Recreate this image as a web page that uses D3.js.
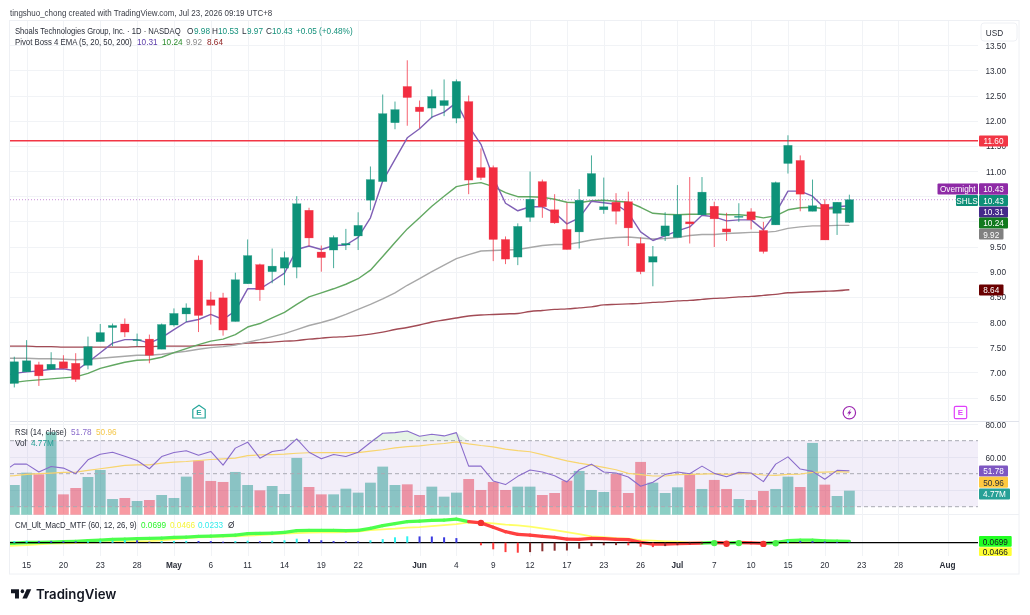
<!DOCTYPE html>
<html lang="en">
<head>
<meta charset="UTF-8">
<title>SHLS 1D chart</title>
<script src="https://d3js.org/d3.v7.min.js"></script>
<style>
    body { margin: 0; background: #fff; }
    svg { display: block; filter: blur(0.3px); }
    text { font-family: "Liberation Sans", sans-serif; font-size: 9.5px; fill: #2a2e39; }
</style>
</head>
<body>
<svg id="chart" width="1030" height="615"></svg>
<script>
// candles, one per trading day, from Apr 14
const open = [6.78,7.01,7.15,7.06,7.21,7.18,7.14,7.61,7.89,7.96,7.63,7.66,7.46,7.94,8.16,9.23,8.44,8.48,8.01,8.76,9.14,9.00,9.07,9.09,10.22,9.39,9.43,
    9.53,9.71,10.42,10.79,11.96,12.68,12.27,12.25,12.30,12.05,12.38,11.07,11.07,9.64,9.29,10.08,10.79,10.23,9.84,9.79,10.50,10.23,10.38,10.39,9.56,9.19,9.71,9.68,
    9.99,10.13,10.30,9.85,10.08,10.19,9.82,9.93,11.15,11.21,10.20,10.34,10.16,9.98];
const high = [7.31,7.64,7.21,7.40,7.34,7.38,7.71,7.96,7.97,8.07,7.77,7.75,7.97,8.27,8.37,9.32,8.60,8.58,8.98,9.64,9.16,9.46,9.40,10.50,10.27,9.52,9.72,
    9.85,10.18,11.09,12.52,12.38,13.20,12.40,12.62,12.82,12.82,12.50,11.45,11.11,9.70,9.96,10.99,10.83,10.54,10.37,10.64,11.31,10.87,10.56,10.59,9.68,9.51,10.18,10.72,
    10.88,10.88,10.39,10.17,10.36,10.26,9.99,10.79,11.71,11.31,10.83,10.44,10.38,10.53];
const low = [6.70,7.01,6.73,7.06,7.08,6.81,7.06,7.61,7.52,7.70,7.52,7.18,7.46,7.91,8.00,7.80,7.95,7.73,8.01,8.76,8.42,8.77,8.73,8.87,9.51,9.00,9.07,
    9.43,9.43,10.22,10.79,11.83,11.90,11.85,12.05,12.09,11.95,10.54,10.82,9.21,9.15,9.13,9.99,10.07,9.95,9.44,9.46,10.50,10.15,9.94,9.51,8.95,8.71,9.61,9.68,
    9.56,10.13,9.49,9.61,9.99,9.84,9.36,9.93,10.95,10.20,10.20,9.63,9.73,9.97];
const close = [7.21,7.23,6.93,7.16,7.08,6.86,7.51,7.79,7.93,7.80,7.65,7.34,7.95,8.17,8.28,8.13,8.33,7.84,8.84,9.32,8.64,9.11,9.28,10.35,9.67,9.28,9.68,
    9.56,9.92,10.83,12.14,12.22,12.46,12.18,12.48,12.40,12.78,10.82,10.87,9.64,9.25,9.90,10.44,10.29,9.97,9.44,10.42,10.95,10.29,10.20,9.87,9.00,9.30,9.91,10.13,
    9.95,10.58,10.05,9.79,10.10,10.03,9.40,10.77,11.51,10.54,10.31,9.63,10.38,10.43];

// Pivot Boss EMAs
const ema5 = [6.98,7.01,7.03,7.06,7.07,7.03,7.20,7.39,7.58,7.65,7.65,7.58,7.69,7.85,8.00,8.05,8.15,8.05,8.22,8.66,8.66,8.81,8.97,9.44,9.51,9.44,9.52,
    9.53,9.68,10.07,10.80,11.23,11.66,11.84,12.07,12.17,12.36,11.89,11.53,10.87,10.36,10.21,10.29,10.29,10.17,9.95,10.07,10.40,10.37,10.34,10.17,9.79,9.62,9.71,9.81,
    9.89,10.12,10.09,10.01,10.03,10.03,9.83,10.17,10.60,10.60,10.50,10.26,10.29,10.31];
const ema20 = [6.80,6.83,6.85,6.87,6.89,6.91,6.98,7.08,7.14,7.20,7.24,7.25,7.30,7.39,7.47,7.55,7.62,7.66,7.75,7.90,7.97,8.08,8.19,8.35,8.50,8.58,8.66,
    8.75,8.86,9.03,9.30,9.58,9.85,10.07,10.30,10.50,10.69,10.74,10.77,10.69,10.57,10.49,10.49,10.48,10.44,10.38,10.37,10.41,10.42,10.40,10.38,10.28,10.16,10.14,10.13,
    10.14,10.14,10.15,10.13,10.13,10.11,10.07,10.11,10.23,10.27,10.28,10.25,10.25,10.24];
const ema50 = [7.28,7.28,7.27,7.27,7.26,7.25,7.26,7.28,7.30,7.32,7.34,7.34,7.36,7.39,7.42,7.46,7.49,7.51,7.54,7.60,7.65,7.71,7.77,7.85,7.93,7.99,8.06,
    8.15,8.25,8.35,8.46,8.58,8.73,8.86,9.00,9.13,9.26,9.34,9.41,9.42,9.43,9.44,9.48,9.52,9.54,9.54,9.58,9.63,9.66,9.68,9.69,9.67,9.65,9.66,9.68,
    9.72,9.74,9.74,9.76,9.77,9.78,9.78,9.80,9.86,9.89,9.91,9.91,9.92,9.92];
const ema200 = [7.52,7.52,7.51,7.51,7.50,7.50,7.50,7.50,7.50,7.50,7.51,7.51,7.52,7.52,7.52,7.53,7.54,7.55,7.56,7.58,7.59,7.60,7.62,7.63,7.66,7.68,7.70,
    7.71,7.73,7.76,7.80,7.85,7.89,7.94,8.00,8.04,8.08,8.12,8.14,8.15,8.16,8.17,8.21,8.23,8.25,8.26,8.28,8.30,8.34,8.35,8.36,8.37,8.39,8.40,8.42,
    8.43,8.45,8.47,8.48,8.50,8.51,8.53,8.55,8.58,8.59,8.60,8.61,8.62,8.64];

// volume in millions
const volume = [5.90,8.35,8.02,16.4,4.04,5.30,7.49,8.88,3.12,3.32,2.72,2.92,3.91,3.32,7.56,10.74,6.70,6.50,8.49,5.90,4.84,5.70,4.11,11.27,5.50,4.04,4.04,
    5.17,4.38,6.36,9.55,5.90,6.03,3.91,5.57,3.58,4.38,7.09,4.91,6.50,4.91,5.57,5.57,3.91,4.31,6.76,8.69,4.91,4.51,8.15,4.31,10.48,6.36,4.31,5.44,
    8.09,5.11,6.90,5.11,3.12,2.92,4.71,5.11,7.56,5.50,14.25,5.97,3.71,4.77];

const rsi = [55.8,55.8,51.0,54.4,53.4,50.0,58.4,61.8,63.0,60.6,58.0,53.0,60.4,62.8,63.9,61.2,63.5,55.2,65.5,69.1,59.4,63.5,64.5,71.1,63.0,59.0,61.6,
    60.4,63.0,68.9,74.5,74.9,75.9,72.7,73.9,72.9,74.9,54.6,54.6,45.6,43.4,48.4,52.2,51.0,48.8,45.0,52.4,55.8,51.0,50.4,48.0,42.4,44.8,49.6,51.0,
    50.0,54.6,50.2,48.2,50.8,50.4,45.2,55.8,60.2,52.8,51.4,46.6,52.0,51.78];
const rsiMa = [48.8,49.6,50.0,50.4,50.8,51.0,52.0,53.0,54.0,55.0,55.4,55.4,56.4,57.0,57.4,58.0,58.6,59.0,59.4,61.0,61.4,61.6,61.9,62.4,62.7,62.8,62.8,
    62.8,62.8,63.7,64.5,65.7,66.4,66.9,67.7,68.3,69.3,68.1,67.1,66.3,64.9,64.0,63.3,61.6,59.6,57.8,56.4,55.2,53.8,52.4,50.2,49.4,48.6,48.6,49.4,
    49.6,49.8,50.0,49.6,50.0,50.0,49.2,49.0,49.6,49.8,50.8,51.0,51.2,50.96];

// CM_Ult_MacD_MTF
const macdLine = [-0.02,0.01,0.02,0.03,0.05,0.07,0.10,0.13,0.17,0.18,0.20,0.22,0.23,0.27,0.28,0.32,0.33,0.35,0.38,0.45,0.47,0.48,0.52,0.60,0.62,0.62,0.62,
    0.60,0.62,0.72,0.85,0.95,1.05,1.08,1.12,1.13,1.18,1.05,0.99,0.77,0.55,0.42,0.38,0.32,0.27,0.18,0.17,0.22,0.20,0.17,0.15,0.02,-0.07,-0.07,-0.05,
    -0.03,-0.02,0.01,-0.02,0.01,-0.01,-0.03,0.00,0.10,0.13,0.13,0.09,0.08,0.0699];
const macdSignal = [-0.15,-0.12,-0.08,-0.05,-0.03,-0.02,0.01,0.02,0.04,0.05,0.07,0.08,0.12,0.17,0.23,0.27,0.28,0.30,0.32,0.35,0.38,0.42,0.45,0.48,0.50,0.52,0.52,
    0.53,0.55,0.63,0.67,0.70,0.75,0.78,0.83,0.88,0.93,1.02,1.00,0.97,0.90,0.87,0.80,0.72,0.63,0.53,0.43,0.32,0.28,0.23,0.20,0.13,0.10,0.07,0.05,
    0.00,0.00,0.00,0.00,0.00,0.00,-0.01,-0.01,0.00,0.01,0.02,0.03,0.04,0.0466];
const macdHist = [0.08,0.09,0.08,0.075,0.07,0.065,0.067,0.10,0.105,0.13,0.12,0.05,0.08,0.085,0.09,0.085,0.08,0.05,0.08,0.10,0.07,0.10,0.12,0.20,0.17,0.12,0.08,
    0.07,0.065,0.12,0.18,0.27,0.32,0.315,0.31,0.27,0.23,0,-0.13,-0.33,-0.47,-0.50,-0.47,-0.43,-0.40,-0.39,-0.30,-0.17,-0.13,-0.12,-0.13,-0.20,-0.22,-0.17,-0.12,
    -0.08,-0.06,0,0,0,0,0,0,0.10,0.09,0.08,0.06,0.04,0.0233];
// days where the MACD crosses (dots)
const crossDays = [38,57,58,59,61,62];

// value of each study one day before the first visible candle
const before = { ema5: 6.92, ema20: 6.78, ema50: 7.28, ema200: 7.52, rsi: 50.5, rsiMa: 48.4, macd: -0.04, signal: -0.18 };

// axes
const tickDays = [1,4,7,10,13,16,19,22,25,28,33,36,39,42,45,48,51,54,57,60,63,66,69,72,76];
const tickLabels = ["15","20","23","28","May","6","11","14","19","22","Jun","4","9","12","17","23","26","Jul","7","10","15","20","23","28","Aug"];
const monthLabels = ["May","Jun","Jul","Aug"];
const priceTicks = [6.5,7,7.5,8,8.5,9,9.5,10,10.5,11,11.5,12,12.5,13,13.5];
const priceLabels = [6.5,7,7.5,8,8.5,9,9.5,11,11.5,12,12.5,13,13.5]; // 10 and 10.5 sit under the tags
const rsiTicks = [40,60,80];
const rsiLabels = [60,80];
const rsiLevels = [30,50,70];

const resistance = 11.60;
const lastPrice = 10.43;

const GREEN = "#0d9279", RED = "#f22d40";
const svg = d3.select("#chart");

// panes
const left = 10, right = 978, axisRight = 1019;
const x = d3.scaleLinear().domain([0, 76]).range([14.3, 947.6]);
const y = d3.scaleLinear().domain([6.5, 13.5]).range([397.5, 45.2]);
const yRsi = d3.scaleLinear().domain([30, 70]).range([506.7, 440.7]);
const yVol = d3.scaleLinear().domain([0, 17]).range([514.7, 429.1]);
const yMacd = d3.scaleLinear().domain([0, 1.2]).range([542.7, 518.7]);

svg.append("clipPath").attr("id", "pane").append("rect")
    .attr("x", left).attr("y", 21).attr("width", right - left).attr("height", 535);

// frame and pane separators
const frame = svg.append("g").attr("stroke", "#eef0f4").attr("fill", "none");
frame.append("rect").attr("x", 9.5).attr("y", 20.5).attr("width", axisRight - 9.5).attr("height", 553.5).attr("stroke-width", 1);
frame.append("line").attr("x1", left).attr("x2", axisRight).attr("y1", 421.5).attr("y2", 421.5).attr("stroke", "#e0e3eb");
frame.append("line").attr("x1", left).attr("x2", axisRight).attr("y1", 514.5).attr("y2", 514.5);

// grid
const grid = svg.append("g").attr("stroke", "#f1f3f6").attr("stroke-width", 1);
grid.selectAll(".gx").data(tickDays).enter().append("line")
    .attr("x1", d => Math.round(x(d)) + 0.5).attr("x2", d => Math.round(x(d)) + 0.5)
    .attr("y1", 21).attr("y2", 556);
grid.selectAll(".gy").data(priceTicks).enter().append("line")
    .attr("x1", left).attr("x2", right)
    .attr("y1", d => Math.round(y(d)) + 0.5).attr("y2", d => Math.round(y(d)) + 0.5);
grid.selectAll(".gr").data(rsiTicks).enter().append("line")
    .attr("x1", left).attr("x2", right)
    .attr("y1", d => Math.round(yRsi(d)) + 0.5).attr("y2", d => Math.round(yRsi(d)) + 0.5);

// price lines
svg.append("line").attr("x1", left).attr("x2", right).attr("y1", y(lastPrice)).attr("y2", y(lastPrice))
    .attr("stroke", "#c88fd8").attr("stroke-dasharray", "1 2");
svg.append("line").attr("x1", left).attr("x2", right).attr("y1", y(resistance)).attr("y2", y(resistance))
    .attr("stroke", "#f23645").attr("stroke-width", 1.4);

// EMAs sit under the candles
function drawLine(values, start, scale, color, width, curve) {
    svg.append("path").datum([start].concat(values))
        .attr("clip-path", "url(#pane)")
        .attr("fill", "none").attr("stroke", color).attr("stroke-width", width)
        .attr("stroke-linejoin", "round")
        .attr("d", d3.line().curve(curve || d3.curveLinear).x((d, i) => x(i - 1)).y(d => scale(d)));
}
drawLine(ema200, before.ema200, y, "#a24b55", 1.4, d3.curveMonotoneX);
drawLine(ema50, before.ema50, y, "#a8a8a8", 1.4);
drawLine(ema20, before.ema20, y, "#62a862", 1.4);
drawLine(ema5, before.ema5, y, "#7f5fb5", 1.4);

// candles
const candles = svg.append("g").selectAll("g").data(d3.range(close.length)).enter().append("g")
    .attr("fill", i => close[i] >= open[i] ? GREEN : RED)
    .attr("stroke", i => close[i] >= open[i] ? GREEN : RED);
candles.append("line")
    .attr("x1", i => x(i)).attr("x2", i => x(i))
    .attr("y1", i => y(high[i])).attr("y2", i => y(low[i]))
    .attr("stroke-opacity", 0.75);
candles.append("rect")
    .attr("x", i => x(i) - 4.2).attr("width", 8.4)
    .attr("y", i => y(Math.max(open[i], close[i])))
    .attr("height", i => Math.max(1, Math.abs(y(open[i]) - y(close[i]))))
    .attr("stroke-width", 0.5).attr("stroke-opacity", 0.5);

// volume under the RSI band
svg.append("g").attr("clip-path", "url(#pane)").selectAll("rect").data(volume).enter().append("rect")
    .attr("x", (d, i) => x(i) - 5.4).attr("width", 10.8)
    .attr("y", d => yVol(d)).attr("height", d => yVol(0) - yVol(d))
    .attr("fill", (d, i) => close[i] >= open[i] ? "rgba(8,153,129,.47)" : "rgba(242,54,69,.5)");

// RSI band
svg.append("rect").attr("x", left).attr("width", right - left)
    .attr("y", yRsi(70)).attr("height", yRsi(30) - yRsi(70))
    .attr("fill", "rgba(126,87,194,.1)");
svg.append("g").selectAll("line").data(rsiLevels).enter().append("line")
    .attr("x1", left).attr("x2", right).attr("y1", d => yRsi(d)).attr("y2", d => yRsi(d))
    .attr("stroke", "#a9abb3").attr("stroke-dasharray", "4 3");

// overbought shading
svg.append("path").datum(rsi)
    .attr("fill", "rgba(76,175,80,.14)")
    .attr("d", d3.area().x((d, i) => x(i)).y0(yRsi(70)).y1(d => yRsi(Math.max(d, 70))));
drawLine(rsiMa, before.rsiMa, yRsi, "#f8d56e", 1.2);
drawLine(rsi, before.rsi, yRsi, "#8a6ccb", 1.1);

// MACD
drawLine(macdSignal, before.signal, yMacd, "#ffff66", 1.8);
const macdAll = [before.macd].concat(macdLine);
const signalAll = [before.signal].concat(macdSignal);
const macdSegs = svg.append("g").attr("clip-path", "url(#pane)").attr("stroke-width", 3.3).attr("stroke-linecap", "round");
macdSegs.selectAll("line").data(d3.range(1, macdAll.length)).enter().append("line")
    .attr("x1", i => x(i - 2)).attr("x2", i => x(i - 1))
    .attr("y1", i => yMacd(macdAll[i - 1])).attr("y2", i => yMacd(macdAll[i]))
    .attr("stroke", i => macdAll[i] >= signalAll[i] ? "#4cff4c" : "#ff4040");
svg.append("line").attr("x1", left).attr("x2", right).attr("y1", yMacd(0)).attr("y2", yMacd(0))
    .attr("stroke", "#000").attr("stroke-width", 1.3);
svg.append("g").selectAll("rect").data(macdHist).enter().append("rect")
    .attr("x", (d, i) => x(i) - 1).attr("width", 2)
    .attr("y", d => Math.min(yMacd(d), yMacd(0)))
    .attr("height", d => Math.abs(yMacd(d) - yMacd(0)))
    .attr("fill", (d, i) => {
        const prev = i > 0 ? macdHist[i - 1] : 0;
        if (d >= 0) return d >= prev ? "#2ef2f2" : "#3a3ae0";
        return d < prev ? "#ff3b3b" : "#8a2f2f";
    });
svg.append("g").selectAll("circle").data(crossDays).enter().append("circle")
    .attr("cx", d => x(d)).attr("cy", d => yMacd(macdLine[d]) + (d > 50 ? 0.6 : 0)).attr("r", 3.2)
    .attr("fill", d => macdLine[d] >= macdSignal[d] ? "#48f048" : "#f23030");

// time axis
const timeAxis = svg.append("g").attr("transform", "translate(0,565)");
timeAxis.selectAll("text").data(tickDays).enter().append("text")
    .attr("x", d => x(d)).attr("dy", "0.35em").attr("text-anchor", "middle")
    .attr("font-weight", (d, i) => monthLabels.includes(tickLabels[i]) ? "bold" : null)
    .text((d, i) => tickLabels[i]);

// price axis
const fmt = d3.format(".2f");
const axisG = svg.append("g").attr("transform", "translate(1006,0)").call(
    d3.axisLeft(y).tickValues(priceLabels).tickSize(0).tickFormat(fmt));
axisG.select(".domain").remove();
const axisR = svg.append("g").attr("transform", "translate(1006,0)").call(
    d3.axisLeft(yRsi).tickValues(rsiLabels).tickSize(0).tickFormat(fmt));
axisR.select(".domain").remove();
svg.selectAll(".tick text").attr("x", 0);
axisG.attr("font-family", null).attr("font-size", null);
axisR.attr("font-family", null).attr("font-size", null);

// USD box
svg.append("rect").attr("x", 981).attr("y", 23).attr("width", 36).attr("height", 18).attr("rx", 3)
    .attr("fill", "#fff").attr("stroke", "#eef0f4");
svg.append("text").attr("x", 994.5).attr("y", 32.5).attr("dy", "0.35em").attr("text-anchor", "middle").text("USD");

// labels on the right side
function tag(x0, x1, cy, h, fill, label, color, cx) {
    svg.append("rect").attr("x", x0).attr("y", cy - h / 2).attr("width", x1 - x0).attr("height", h).attr("fill", fill).attr("rx", 1);
    svg.append("text").attr("x", cx === undefined ? (x0 + x1) / 2 : cx).attr("y", cy).attr("dy", "0.35em")
        .attr("text-anchor", "middle").style("fill", color).text(label);
}
tag(937.5, 978, 189, 11, "#8e2aa6", "Overnight", "#fff");
tag(979, 1008, 189, 11.4, "#8e2aa6", "10.43", "#fff");
tag(956, 978, 200.5, 10.8, "#0f8f78", "SHLS", "#fff");
tag(979, 1008, 200.5, 10.8, "#0f8f78", "10.43", "#fff");
tag(979, 1008, 212, 10.8, "#452a8a", "10.31", "#fff");
tag(979, 1008, 223, 10.8, "#117a1e", "10.24", "#fff");
tag(979, 1003.5, 234.2, 10.8, "#808080", "9.92", "#fff");
tag(979, 1003.5, 290, 10.8, "#6a0000", "8.64", "#fff");
tag(979, 1008, 141, 10.8, "#f23645", "11.60", "#fff");
tag(979, 1008, 471, 11, "#7e57c2", "51.78", "#fff");
tag(979, 1008, 482.3, 11, "#ffc940", "50.96", "#2a2e39");
tag(979, 1010, 494, 11, "#26a096", "4.77M", "#fff");
tag(979, 1011.7, 541.3, 10.8, "#22ff22", "0.0699", "#131722");
tag(979, 1011.7, 551.7, 8.8, "#ffff33", "0.0466", "#131722");

// legends, the third item is the colour and the fourth how far to pull the text in
function legend(yPos, parts) {
    parts.forEach(p => {
        svg.append("text").attr("x", p[0]).attr("y", yPos).attr("dy", "0.35em")
            .attr("data-squeeze", p[3] || null)
            .style("fill", p[2] || "#2a2e39").text(p[1]);
    });
}
legend(13, [[10, "tingshuo_chong created with TradingView.com, Jul 23, 2026 09:19 UTC+8", "#3a3d46", 0.84]]);
const upText = "#14917b";
legend(31, [[15, "Shoals Technologies Group, Inc. · 1D · NASDAQ", null, 0.805], [187, "O"], [194, "9.98", upText], [212, "H"], [218, "10.53", upText],
    [242, "L"], [247, "9.97", upText], [266, "C"], [272, "10.43", upText], [296, "+0.05 (+0.48%)", upText]]);
legend(42, [[15, "Pivot Boss 4 EMA (5, 20, 50, 200)", null, 0.82], [137, "10.31", "#5a3aa8"], [162, "10.24", "#2c8c2c"], [186, "9.92", "#8a8a8a"], [207, "8.64", "#8c1c1c"]]);
legend(431.5, [[15, "RSI (14, close)", null, 0.82], [71, "51.78", "#8a6ccb"], [96, "50.96", "#f5c84c"]]);
legend(443, [[15, "Vol"], [31, "4.77M", "#26a096"]]);
legend(525, [[15, "CM_Ult_MacD_MTF (60, 12, 26, 9)", null, 0.82], [141, "0.0699", "#2cf52c"], [170, "0.0466", "#f5f53a"], [198, "0.0233", "#35ecec"], [228, "Ø"]]);

// the chart's own font is narrower than anything installed, so pull the glyphs in
svg.selectAll("text").each(function () {
    const w = this.getComputedTextLength();
    const k = +this.getAttribute("data-squeeze") || 0.865;
    d3.select(this).attr("textLength", w * k).attr("lengthAdjust", "spacingAndGlyphs");
});

// earnings and dividend markers
const markers = svg.append("g");
markers.append("path").attr("d", "M192.8 409.5L199 405.3L205.2 409.5V418H192.8Z").attr("fill", "#fff").attr("stroke", "#26a69a").attr("stroke-width", 1.2);
markers.append("text").attr("x", 199).attr("y", 412.5).attr("dy", "0.35em").attr("text-anchor", "middle").attr("font-weight", "bold").style("font-size", "8px").style("fill", "#26a69a").text("E");
markers.append("circle").attr("cx", x(68)).attr("cy", 412.7).attr("r", 6.2).attr("fill", "#fff").attr("stroke", "#9c27b0").attr("stroke-width", 1.2);
markers.append("path").attr("d", `M${x(68) + 1.6} 408.7L${x(68) - 2.2} 413.4H${x(68) - 0.2}L${x(68) - 1.4} 416.6L${x(68) + 2.2} 411.8H${x(68) + 0.2}Z`).attr("fill", "#9c27b0");
markers.append("rect").attr("x", 954.3).attr("y", 406.3).attr("width", 12.4).attr("height", 12.4).attr("rx", 1.5).attr("fill", "#fff").attr("stroke", "#e040fb").attr("stroke-width", 1.2);
markers.append("text").attr("x", 960.5).attr("y", 412.5).attr("dy", "0.35em").attr("text-anchor", "middle").attr("font-weight", "bold").style("font-size", "8px").style("fill", "#e040fb").text("E");

// TradingView logo
const logo = svg.append("g").attr("transform", "translate(11,589.3) scale(0.57,0.65) translate(0,-6)").attr("fill", "#131722");
logo.append("path").attr("d", "M14 6H0v6h7v8h7V6Z");
logo.append("path").attr("d", "M28 20h-8l7.5-14h8L28 20Z");
logo.append("circle").attr("cx", 20).attr("cy", 9).attr("r", 3);
svg.append("text").attr("x", 36).attr("y", 594.5).attr("dy", "0.35em")
    .style("font-family", "Inter").style("font-weight", "600").style("font-size", "13.2px").style("fill", "#131722").text("TradingView");
</script>
</body>
</html>
